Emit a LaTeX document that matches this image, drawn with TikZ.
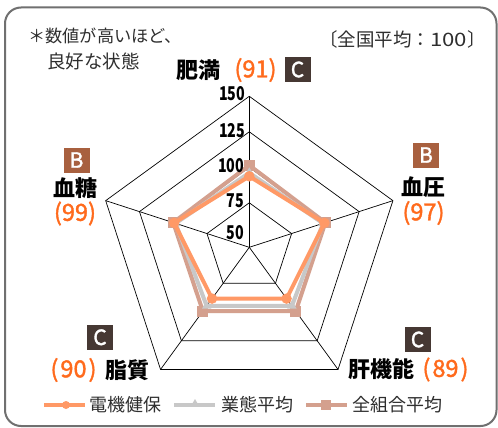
\documentclass[tikz,border=0pt]{standalone}
\usepackage{fontspec}
\usepackage{graphicx}
\setmainfont{Noto Sans CJK JP}
\newfontfamily\medfont{Noto Sans CJK JP}[FakeBold=1.6]
\usetikzlibrary{shapes.geometric}
\definecolor{frameC}{HTML}{707070}
\definecolor{serO}{HTML}{FF9966}
\definecolor{serG}{HTML}{C8C8C8}
\definecolor{serB}{HTML}{D4A08E}
\definecolor{numO}{HTML}{FF6A1C}
\definecolor{boxB}{HTML}{A8603F}
\definecolor{boxC}{HTML}{463833}
\definecolor{txtD}{HTML}{2E2E2E}
\begin{document}
\begin{tikzpicture}[x=1pt,y=-1pt,
  gridline/.style={black, line width=0.7pt},
  serline/.style={line width=4pt, line join=miter},
  note/.style={inner sep=0pt, text=txtD},
  axlbl/.style={inner sep=0pt, anchor=east, font=\bfseries\fontsize{19}{19}\selectfont},
  catlbl/.style={inner sep=0pt, font=\bfseries\fontsize{22}{22}\selectfont},
  numlbl/.style={inner sep=0pt, text=numO, font=\medfont\fontsize{23.5}{23.5}\selectfont},
  gradebox/.style={inner sep=0pt, minimum width=26pt, minimum height=25pt, text=white, font=\medfont\fontsize{21}{21}\selectfont},
  cmark/.style={circle, fill=serO, inner sep=0pt, minimum size=10.5pt},
  tmark/.style={regular polygon, regular polygon sides=3, fill=serG, inner sep=0pt, minimum size=11pt},
  smark/.style={rectangle, fill=serB, inner sep=0pt, minimum size=11pt},
  legtext/.style={inner sep=0pt, anchor=west, text=txtD, font=\fontsize{18}{18}\selectfont}
]
\useasboundingbox (0,0) rectangle (498,428);
\fill[white] (0,0) rectangle (498,428);
\draw[frameC, line width=2pt, rounded corners=16pt] (5,7.5) rectangle (496.5,426);

\begin{scope}[shift={(249.3,247.3)}]
  \coordinate (O) at (0,0);
  \foreach \i/\a in {1/-90,2/-18,3/54,4/126,5/198}{
    \coordinate (s\i) at (\a:151);
    \draw[gridline] (O) -- (s\i);
  }
  \foreach \r in {44.5,80,115.5,151}{
    \draw[gridline] (-90:\r) -- (-18:\r) -- (54:\r) -- (126:\r) -- (198:\r) -- cycle;
  }
  % 全組合平均
  \foreach \i/\a/\r in {1/-90/82,2/-18/80,3/54/79,4/126/79,5/198/80}
    \coordinate (b\i) at (\a:\r);
  \draw[serB, serline] (b1) -- (b2) -- (b3) -- (b4) -- (b5) -- cycle;
  \foreach \i in {1,...,5} \node[smark] (bm\i) at (b\i) {};
  % 業態平均
  \foreach \i/\a/\r in {1/-90/74.5,2/-18/77.5,3/54/72.5,4/126/72.5,5/198/77.5}
    \coordinate (g\i) at (\a:\r);
  \draw[serG, serline] (g1) -- (g2) -- (g3) -- (g4) -- (g5) -- cycle;
  \foreach \i in {1,...,5} \node[tmark] (gm\i) at (g\i) {};
  % 電機健保
  \foreach \i/\a/\r in {1/-90/71,2/-18/79,3/54/63.4,4/126/63.4,5/198/79}
    \coordinate (o\i) at (\a:\r);
  \draw[serO, serline] (o1) -- (o2) -- (o3) -- (o4) -- (o5) -- cycle;
  \foreach \i in {1,...,5} \node[cmark] (om\i) at (o\i) {};
\end{scope}

% axis labels
\node[axlbl] (t150) at (245.5,94) {\scalebox{0.75}[1]{150}};
\node[axlbl] (t125) at (245.5,130.5) {\scalebox{0.75}[1]{125}};
\node[axlbl] (t100) at (244.5,165.8) {\scalebox{0.75}[1]{100}};
\node[axlbl] (t75) at (244,200.5) {\scalebox{0.75}[1]{75}};
\node[axlbl] (t50) at (244,232.5) {\scalebox{0.75}[1]{50}};

% notes
\node[note, anchor=west, font=\fontsize{17.2}{17.2}\selectfont] (n1) at (28,36) {＊数値が高いほど、};
\node[note, anchor=west, font=\fontsize{18.5}{18.5}\selectfont] (n2) at (47,61.5) {良好な状態};
\node[note, anchor=east, font=\fontsize{18.5}{18.5}\selectfont] (n3) at (486,39) {〔全国平均：\scalebox{1.2}[1]{100}〕};

% top
\node[catlbl] (c1) at (198.5,70) {肥満};
\node[numlbl] (v1) at (255.5,70) {(91)};
\node[gradebox, fill=boxC] (g1b) at (297.5,69.5) {C};
% right
\node[gradebox, fill=boxB] (g2b) at (426,155) {B};
\node[catlbl] (c2) at (423.5,187) {血圧};
\node[numlbl] (v2) at (423.5,213) {(97)};
% bottom right
\node[gradebox, fill=boxC] (g3b) at (417.5,339.5) {C};
\node[catlbl] (c3) at (381,369.5) {肝機能};
\node[numlbl] (v3) at (445.5,369.5) {(\hspace{2pt}89\hspace{2pt})};
% bottom left
\node[gradebox, fill=boxC] (g4b) at (100,337.3) {C};
\node[catlbl] (c4) at (127,370) {脂質};
\node[numlbl] (v4) at (73.5,370) {(\hspace{2pt}90\hspace{2pt})};
% left
\node[gradebox, fill=boxB] (g5b) at (76.5,160) {B};
\node[catlbl] (c5) at (75,188) {血糖};
\node[numlbl] (v5) at (75,213.5) {(99)};

% legend
\coordinate (la1) at (44,405); \coordinate (la2) at (85,405);
\draw[serO, line width=4pt] (la1) -- (la2);
\node[cmark, minimum size=8pt] (lm1) at (66,405) {};
\node[legtext] (lt1) at (89,405) {電機健保};
\coordinate (lb1) at (174,405); \coordinate (lb2) at (215,405);
\draw[serG, line width=4pt] (lb1) -- (lb2);
\node[tmark, minimum size=10pt] (lm2) at (195,404) {};
\node[legtext] (lt2) at (221,405) {業態平均};
\coordinate (lc1) at (306,405); \coordinate (lc2) at (347,405);
\draw[serB, line width=4pt] (lc1) -- (lc2);
\node[smark, minimum size=10pt] (lm3) at (326,405) {};
\node[legtext] (lt3) at (352,405) {全組合平均};
\end{tikzpicture}
\end{document}
